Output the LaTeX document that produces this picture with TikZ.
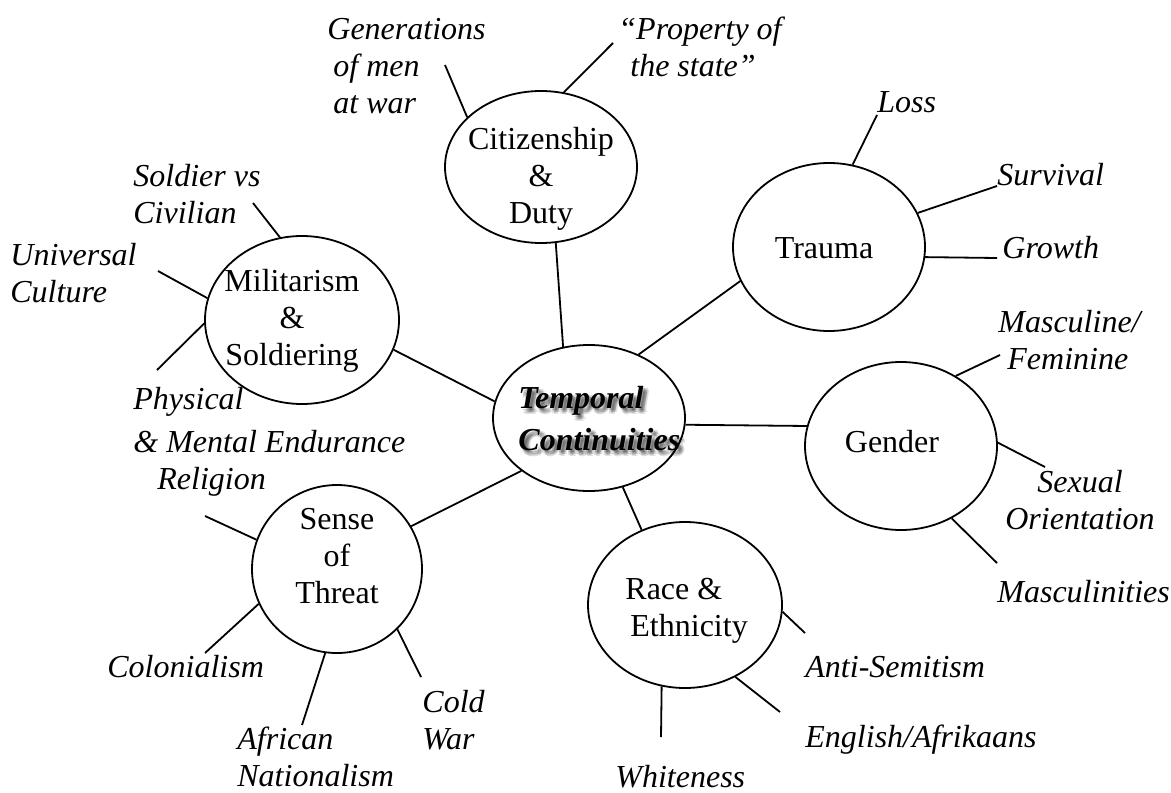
\documentclass[tikz,border=0pt]{standalone}
\usepackage{fontspec}
\setmainfont{Liberation Serif}
\usepackage{tikz}
\usetikzlibrary{shapes.geometric}
\tikzset{
  theme/.style={draw, ellipse, line width=0.9pt, inner sep=0pt},
  themetext/.style={align=center, inner sep=0pt, font=\fontsize{16}{18.5}\selectfont},
  sub/.style={anchor=west, align=left, inner sep=0pt, font=\fontsize{16}{18.5}\selectfont\itshape},
  core/.style={anchor=west, align=left, inner sep=0pt, font=\fontsize{16}{21}\selectfont\bfseries\itshape},
  link/.style={line width=0.9pt}
}

\begin{document}
\begin{tikzpicture}[x=0.5pt, y=-0.5pt]
\useasboundingbox (0,0) rectangle (1171,792);

\node[theme, minimum width=96pt, minimum height=73pt] (tc) at (589,418) {};
\node[theme, minimum width=96pt, minimum height=76pt] (cit) at (541,167) {};
\node[theme, minimum width=96pt, minimum height=84pt] (tra) at (829,247) {};
\node[theme, minimum width=96pt, minimum height=84pt] (gen) at (901,446) {};
\node[theme, minimum width=97pt, minimum height=84pt] (mil) at (302,320) {};
\node[theme, minimum width=85pt, minimum height=84pt] (thr) at (337,569) {};
\node[theme, minimum width=97pt, minimum height=83pt] (race) at (685,605) {};

\foreach \dx/\dy [count=\i] in {2/2, 4/4, 2/5, 5/2, 3/3, 4/6, 6/4}
  \node[core, text=black, text opacity=0.12] (tcshadow\i) at (518+\dx,419+\dy) {Temporal\\Continuities};
\node[core] (tctext) at (518,419) {Temporal\\Continuities};
\node[themetext] (cittext) at (541,179) {Citizenship\\\&\hspace*{12pt}\\Duty};
\node[themetext] (tratext) at (824,248) {Trauma};
\node[themetext] (gentext) at (892,442) {Gender};
\node[themetext] (miltext) at (292,321) {Militarism\\\&\\Soldiering};
\node[themetext] (thrtext) at (337,556) {Sense\\of\hspace*{16pt}\\Threat};
\node[themetext, anchor=west, align=left] (racetext) at (625,611) {Race \&\\\hspace*{2.5pt}Ethnicity};

\node[sub] (soldier) at (133,194) {Soldier vs\\Civilian};
\node[sub] (universal) at (10,273) {Universal\\Culture};
\node[sub] (physical) at (133,420) {Physical\\[3pt]\& Mental Endurance};
\node[sub] (religion) at (157,482) {Religion};
\node[sub] (generations) at (327,66) {Generations\\\hspace*{3pt}of men\\\hspace*{3pt}at war};
\node[sub] (property) at (618,47) {“Property of\\\hspace*{6pt}the state”};
\node[sub] (loss) at (877,102) {Loss};
\node[sub] (survival) at (997,175) {Survival};
\node[sub] (growth) at (1002,248) {Growth};
\node[sub] (mascfem) at (998,340) {Masculine/\\\hspace*{4.5pt}Feminine};
\node[sub, anchor=center, align=center] (sexual) at (1080,500) {Sexual\\Orientation};
\node[sub] (masculinities) at (997,592) {Masculinities};
\node[sub] (antisem) at (805,667) {Anti-Semitism};
\node[sub] (engafr) at (805,740) {English/Afrikaans};
\node[sub] (whiteness) at (615,777) {Whiteness};
\node[sub] (colonial) at (107,667) {Colonialism};
\node[sub] (african) at (237,757) {African\\Nationalism};
\node[sub] (coldwar) at (422,720) {Cold\\War};

\coordinate (e-soldier) at (253,203);
\coordinate (e-universal) at (158,271);
\coordinate (e-physical) at (157,370);
\coordinate (e-religion) at (205,516);
\coordinate (e-generations) at (445,65);
\coordinate (e-property) at (613,43);
\coordinate (e-loss) at (877,115);
\coordinate (e-survival) at (997,186);
\coordinate (e-growth) at (997,258);
\coordinate (e-mascfem) at (1000,355);
\coordinate (e-sexual) at (1045,467);
\coordinate (e-masculinities) at (997,563);
\coordinate (e-antisem) at (805,633);
\coordinate (e-engafr) at (780,712);
\coordinate (e-whiteness) at (661,737);
\coordinate (e-colonial) at (205,653);
\coordinate (e-african) at (302,725);
\coordinate (e-coldwar) at (421,677);

\draw[link] (cit.-79) -- (tc.110);
\draw[link] (tra.201) -- (tc.52);
\draw[link] (tc.-4) -- (gen.168);
\draw[link] (tc.-64) -- (race.120);
\draw[link] (tc.218) -- (thr.30);
\draw[link] (mil.-18) -- (tc.170);

\draw[link] (mil.105) -- (e-soldier);
\draw[link] (mil.167) -- (e-universal);
\draw[link] (mil.182) -- (e-physical);
\draw[link] (cit.146) -- (e-generations);
\draw[link] (cit.73) -- (e-property);
\draw[link] (tra.74) -- (e-loss);
\draw[link] (tra.21) -- (e-survival);
\draw[link] (tra.-6) -- (e-growth);
\draw[link] (gen.52) -- (e-mascfem);
\draw[link] (gen.2) -- (e-sexual);
\draw[link] (gen.-55) -- (e-masculinities);
\draw[link] (race.-4) -- (e-antisem);
\draw[link] (race.-55) -- (e-engafr);
\draw[link] (race.-106) -- (e-whiteness);
\draw[link] (thr.160) -- (e-religion);
\draw[link] (thr.204) -- (e-colonial);
\draw[link] (thr.-98) -- (e-african);
\draw[link] (thr.-45) -- (e-coldwar);
\end{tikzpicture}
\end{document}
